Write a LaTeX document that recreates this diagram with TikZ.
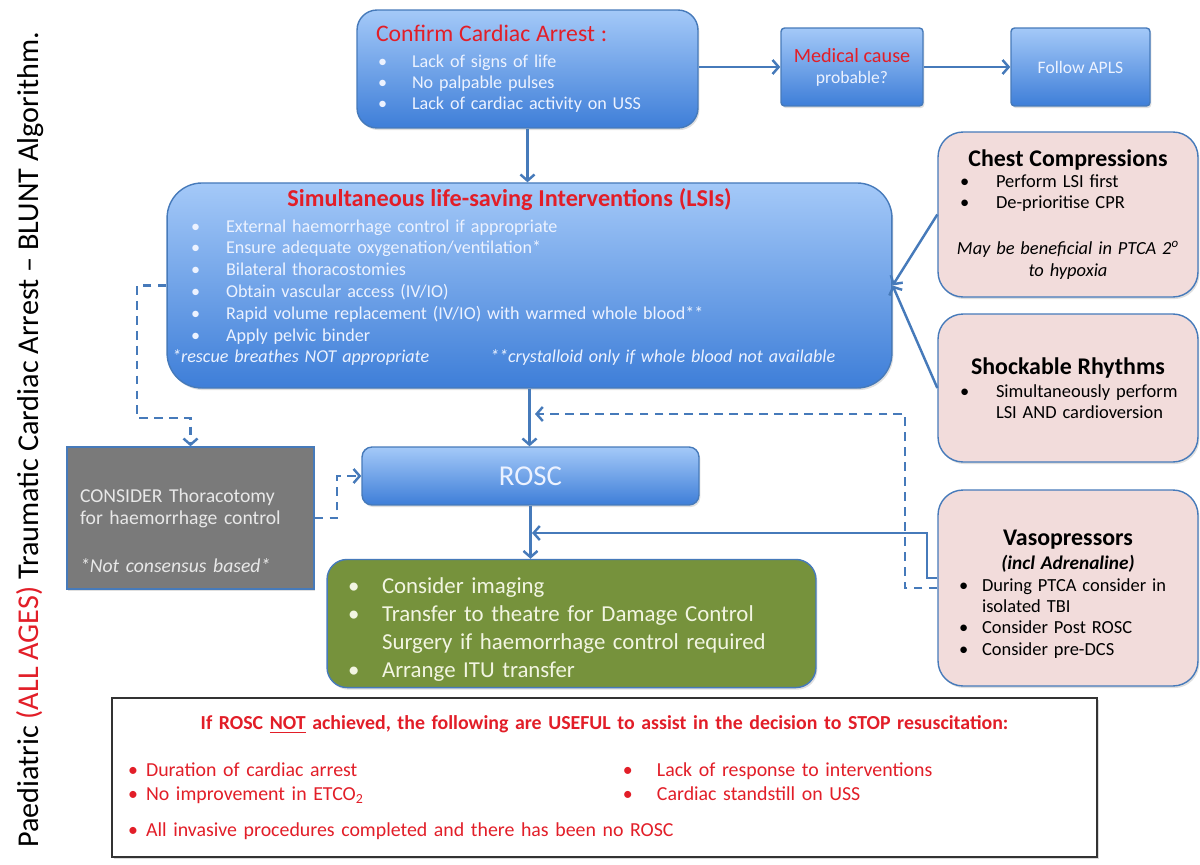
\documentclass[tikz,border=0pt]{standalone}
\usepackage{fontspec}
\setmainfont{Carlito}
\usetikzlibrary{arrows.meta,shadows}

\definecolor{edgeblue}{RGB}{70,122,186}
\definecolor{lightblue}{RGB}{164,201,248}
\definecolor{deepblue}{RGB}{62,126,216}
\definecolor{alertred}{RGB}{226,30,40}
\definecolor{pinkfill}{RGB}{242,220,219}
\definecolor{greyfill}{RGB}{122,122,122}
\definecolor{greenfill}{RGB}{118,146,60}
\definecolor{paletext}{RGB}{236,242,255}
\definecolor{palegrey}{RGB}{232,232,232}
\definecolor{palegreen}{RGB}{242,245,226}

\newcommand\blt[3]{\par\noindent\hangindent=#2\makebox[#2][l]{\hspace*{#1}\textbullet}#3\par}

\begin{document}
\begin{tikzpicture}[x=0.02cm, y=-0.02cm,
    box/.style={draw=edgeblue, line width=0.8pt,
        drop shadow={opacity=0.25, shadow xshift=0.8pt, shadow yshift=-1.2pt}},
    bluebox/.style={box, top color=lightblue, bottom color=deepblue, text=paletext},
    pinkbox/.style={box, fill=pinkfill, rounded corners=0.5cm, minimum width=5.2cm,
        text width=4.6cm, inner xsep=0.3cm, align=left},
    flow/.style={draw=edgeblue, line width=1.4pt, -{Straight Barb[length=3.5pt,width=8pt]}},
    dashflow/.style={flow, dash pattern=on 5pt off 3.5pt}]
    \useasboundingbox (0,0) rectangle (1200,865);

    \node[rotate=90, font=\fontsize{17.2}{20}\selectfont] (title) at (30,440)
        {Paediatric {\color{alertred}(ALL AGES)} Traumatic Cardiac Arrest – BLUNT Algorithm.};

    \node[bluebox, rounded corners=0.4cm, minimum width=6.82cm, minimum height=2.36cm,
        text width=6.06cm, inner xsep=0.38cm, align=left] (arrest) at (527.5,69)
        {{\color{alertred}\fontsize{13.5}{15}\selectfont Confirm Cardiac Arrest :\par}
        \vspace{2.5pt}\fontsize{10.3}{12}\selectfont
        \blt{0.04cm}{0.72cm}{Lack of signs of life}
        \blt{0.04cm}{0.72cm}{No palpable pulses}
        \blt{0.04cm}{0.72cm}{Lack of cardiac activity on USS}};
    \node[bluebox, rounded corners=2pt, minimum width=2.84cm, minimum height=1.56cm,
        align=center] (medical) at (852,67)
        {{\color{alertred}\fontsize{11.5}{13.6}\selectfont Medical cause}\\
        \fontsize{10}{13.6}\selectfont probable?};
    \node[bluebox, rounded corners=2pt, minimum width=2.78cm, minimum height=1.56cm,
        font=\fontsize{10}{12}\selectfont] (apls) at (1080.5,67) {Follow APLS};

    \node[bluebox, rounded corners=0.7cm, minimum width=14.5cm, minimum height=4.06cm,
        text width=14.3cm, inner xsep=0.1cm, align=left] (lsi) at (529.5,285.5)
        {{\centering\color{alertred}\bfseries\fontsize{13.8}{15}\selectfont
        Simultaneous life-saving Interventions (LSIs)\hspace*{0.8cm}\par}
        \vspace{2pt}\fontsize{10.3}{12.4}\selectfont
        \blt{0.38cm}{1.08cm}{External haemorrhage control if appropriate}
        \blt{0.38cm}{1.08cm}{Ensure adequate oxygenation/ventilation*}
        \blt{0.38cm}{1.08cm}{Bilateral thoracostomies}
        \blt{0.38cm}{1.08cm}{Obtain vascular access (IV/IO)}
        \blt{0.38cm}{1.08cm}{Rapid volume replacement (IV/IO) with warmed whole blood**}
        \blt{0.38cm}{1.08cm}{Apply pelvic binder}
        \noindent\textit{\makebox[6.36cm][l]{*rescue breathes NOT appropriate}**crystalloid only if whole blood not available}\rule[-0.4cm]{0pt}{0pt}};

    \node[pinkbox, minimum height=3.3cm] (chest) at (1068,214.5)
        {{\centering\bfseries\fontsize{13.6}{15}\selectfont Chest Compressions\par}
        \fontsize{10.5}{12}\selectfont
        \blt{0.14cm}{0.86cm}{Perform LSI first}
        \blt{0.14cm}{0.86cm}{De-prioritise CPR}
        \vspace{0.5cm}
        {\centering\itshape May be beneficial in PTCA 2\textsuperscript{o}\\ to hypoxia\par}};
    \node[pinkbox, minimum height=2.96cm] (shock) at (1068,388)
        {{\centering\bfseries\fontsize{13.6}{15}\selectfont Shockable Rhythms\par}
        \vspace{1pt}\fontsize{10.5}{12}\selectfont
        \blt{0.14cm}{0.86cm}{Simultaneously perform\newline LSI AND cardioversion}};
    \node[pinkbox, minimum height=3.92cm] (vaso) at (1068,588)
        {\rule{0pt}{0.55cm}{\centering\bfseries\fontsize{13.6}{14}\selectfont Vasopressors\\
        \itshape\fontsize{11}{14}\selectfont (incl Adrenaline)\par}
        \fontsize{10.5}{12.2}\selectfont
        \blt{0.12cm}{0.58cm}{During PTCA consider in\newline isolated TBI}
        \blt{0.12cm}{0.58cm}{Consider Post ROSC}
        \blt{0.12cm}{0.58cm}{Consider pre-DCS}};

    \node[box, fill=greyfill, text=palegrey, minimum width=4.94cm, minimum height=2.84cm,
        text width=4.42cm, inner xsep=0.26cm, align=left,
        font=\fontsize{11.2}{13}\selectfont] (thoraco) at (190.5,518)
        {\rule{0pt}{0.78cm}CONSIDER Thoracotomy\\ for haemorrhage control\\[0.5cm]
        \textit{*Not consensus based*}};
    \node[bluebox, rounded corners=0.2cm, minimum width=6.74cm, minimum height=1.16cm,
        font=\fontsize{16.4}{18}\selectfont] (rosc) at (530.5,476) {ROSC};
    \node[box, fill=greenfill, text=palegreen, rounded corners=0.4cm, minimum width=9.78cm,
        minimum height=2.46cm, text width=9.58cm, inner xsep=0.1cm, align=left,
        font=\fontsize{13}{16}\selectfont] (care) at (571.5,623.5)
        {\blt{0.32cm}{1.0cm}{Consider imaging}
        \blt{0.32cm}{1.0cm}{Transfer to theatre for Damage Control\newline Surgery if haemorrhage control required}
        \blt{0.32cm}{1.0cm}{Arrange ITU transfer}};

    \node[draw=black!80, line width=1.2pt, fill=white,
        drop shadow={opacity=0.3, shadow xshift=1pt, shadow yshift=-1pt},
        minimum width=19.7cm, minimum height=3.18cm, text width=19.5cm, inner xsep=0.1cm,
        align=left, text=alertred, font=\fontsize{11.3}{14}\selectfont] (stop) at (604.5,777.5)
        {{\centering\bfseries If ROSC \underline{NOT} achieved, the following are USEFUL to assist in the decision to STOP resuscitation:\par}
        \vspace{0.44cm}
        \noindent\makebox[10.12cm][l]{\hspace*{0.22cm}\makebox[0.36cm][l]{\textbullet}Duration of cardiac arrest}\makebox[0.68cm][l]{\textbullet}Lack of response to interventions\par
        \noindent\makebox[10.12cm][l]{\hspace*{0.22cm}\makebox[0.36cm][l]{\textbullet}No improvement in ETCO\textsubscript{2}}\makebox[0.68cm][l]{\textbullet}Cardiac standstill on USS\par
        \vspace{0.22cm}
        \noindent\hspace*{0.22cm}\makebox[0.36cm][l]{\textbullet}All invasive procedures completed and there has been no ROSC};

    \coordinate (backin) at (532,533);
    \coordinate (dashin) at (535,414);

    \draw [flow] (arrest.east |- medical.west) to (medical.west);
    \draw [flow] (medical) to (apls);
    \draw [flow] (arrest.south) to (arrest.south |- lsi.north);
    \draw [flow] (chest.west) to (lsi.east);
    \draw [flow] (shock.west) to (lsi.east);
    \draw [flow] (lsi.south) to (lsi.south |- rosc.north);
    \draw [flow] (rosc.south) to (rosc.south |- care.north);
    \draw [flow] ([yshift=0.2cm]vaso.west) -| (927,533) to (backin);
    \draw [dashflow] (vaso.west) -| (905,414) to (dashin);
    \draw [dashflow] (lsi.west) -| (137,418) -| (thoraco.north);
    \draw [dashflow] (thoraco.east) -| (337,476) to (rosc.west);
\end{tikzpicture}
\end{document}
